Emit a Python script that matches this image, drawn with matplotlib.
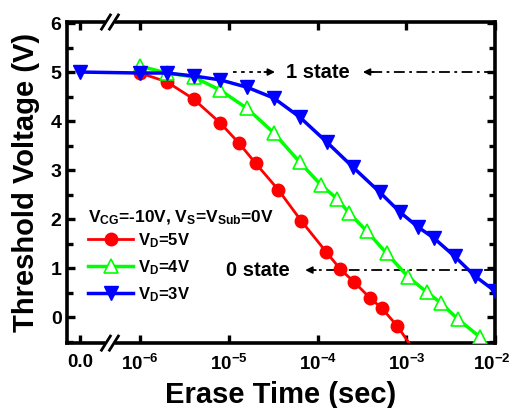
import matplotlib
matplotlib.use("Agg")
import matplotlib.pyplot as plt
import numpy as np
from matplotlib.ticker import MultipleLocator, FixedLocator
from matplotlib.transforms import ScaledTranslation

plt.rcParams["font.family"] = "Liberation Sans"
plt.rcParams["font.weight"] = "bold"
plt.rcParams["mathtext.fontset"] = "custom"
plt.rcParams["mathtext.rm"] = "Liberation Sans:bold"
plt.rcParams["mathtext.bf"] = "Liberation Sans:bold"
plt.rcParams["mathtext.it"] = "Liberation Sans:bold"

# ── data ──────────────────────────────────────────────────────────────────────
t_vd5 = [1e-6, 2e-6, 4e-6, 8e-6, 1.3e-5, 2e-5, 3.6e-5, 6.5e-5, 1.25e-4,
         1.8e-4, 2.6e-4, 3.9e-4, 5.3e-4, 7.9e-4, 1.3e-3]
v_vd5 = [4.98, 4.80, 4.45, 3.96, 3.55, 3.14, 2.60, 1.97, 1.33,
         0.98, 0.71, 0.39, 0.18, -0.18, -0.75]

t_vd4 = [1e-6, 2e-6, 4e-6, 8e-6, 1.6e-5, 3.2e-5, 6.3e-5, 1.1e-4, 1.65e-4,
         2.25e-4, 3.6e-4, 6e-4, 1.05e-3, 1.7e-3, 2.45e-3, 3.8e-3, 6.8e-3]
v_vd4 = [5.12, 4.98, 4.90, 4.63, 4.26, 3.76, 3.16, 2.69, 2.42,
         2.13, 1.75, 1.30, 0.82, 0.51, 0.29, -0.04, -0.41]

t_vd3 = [0, 1e-6, 2e-6, 4e-6, 8e-6, 1.6e-5, 3.2e-5, 6.3e-5, 1.27e-4,
         2.5e-4, 5e-4, 8.5e-4, 1.35e-3, 2.05e-3, 3.5e-3, 5.9e-3, 1e-2]
v_vd3 = [5.00, 4.98, 4.98, 4.92, 4.84, 4.69, 4.47, 4.08, 3.57,
         3.06, 2.55, 2.14, 1.84, 1.61, 1.24, 0.84, 0.53]

x_ticks = [0, 1e-6, 1e-5, 1e-4, 1e-3, 1e-2]
x_ticklabels = ["0.0", r"$10^{-6}$", r"$10^{-5}$", r"$10^{-4}$",
                r"$10^{-3}$", r"$10^{-2}$"]

# ── broken time axis: t = 0 sits left of the log decades ─────────────────────
ZERO_POS = -6.68
BREAK_POS = -6.34


def tpos(t):
    t = np.asarray(t, dtype=float)
    safe = np.where(t > 0, t, 1.0)
    return np.where(t > 0, np.log10(safe), ZERO_POS)


# ── plot ──────────────────────────────────────────────────────────────────────
fig = plt.figure(figsize=(5.12, 4.08), dpi=100)
ax = fig.add_axes([0.131, 0.159, 0.836, 0.787])

ax.plot(tpos(t_vd5), v_vd5, "-o", color="#ff0000", lw=2, ms=9,
        label=r"V$_{\mathrm{D}}$=5V", zorder=3)
ax.plot(tpos(t_vd4), v_vd4, "-^", color="#00ff00", lw=2.5, ms=10,
        mfc="white", mec="#00ff00", mew=1.2,
        label=r"V$_{\mathrm{D}}$=4V", zorder=3)
ax.plot(tpos(t_vd3), v_vd3, "-v", color="#0000ff", lw=2.5, ms=10,
        label=r"V$_{\mathrm{D}}$=3V", zorder=3)

ax.set_xlim(-6.823, -2.0)
ax.set_ylim(-0.53, 6.02)
ax.xaxis.set_major_locator(FixedLocator(tpos(x_ticks)))
ax.set_xticklabels(x_ticklabels)
ax.set_yticks([0, 1, 2, 3, 4, 5, 6])
ax.yaxis.set_minor_locator(MultipleLocator(0.5))
ax.tick_params(which="both", direction="in", top=True, right=True,
               width=2.4, labelsize=14)
ax.tick_params(axis="x", pad=8, labelsize=13.5)
ax.tick_params(axis="y", pad=4)
ax.tick_params(which="major", length=6)
ax.tick_params(which="minor", length=4)
for lbl in ax.get_xticklabels() + ax.get_yticklabels():
    lbl.set_fontweight("bold")
# last decade label sits flush with the figure edge
last = ax.get_xticklabels()[-1]
last.set_transform(last.get_transform()
                   + ScaledTranslation(-3 / 100, 0, fig.dpi_scale_trans))
for sp in ax.spines.values():
    sp.set_linewidth(2.6)

ax.set_xlabel("Erase Time (sec)", fontsize=21, fontweight="bold", labelpad=5)
ax.set_ylabel("Threshold Voltage (V)", fontsize=21, fontweight="bold",
              labelpad=7.5)

# break marks on top and bottom spines
tr = ax.get_xaxis_transform()
for yb in (0.0, 1.0):
    ax.plot([BREAK_POS - 0.05, BREAK_POS + 0.05], [yb, yb], color="white",
            lw=5, transform=tr, clip_on=False, zorder=5,
            solid_capstyle="butt")
    for dx in (-0.045, 0.045):
        ax.plot([BREAK_POS + dx - 0.05, BREAK_POS + dx + 0.05],
                [yb - 0.022, yb + 0.022], color="black", lw=2,
                transform=tr, clip_on=False, zorder=6)

# state markers
ax.text(-4.0, 5.0, "1 state", fontsize=14.5, fontweight="bold",
        ha="center", va="center")
ax.plot([-4.95, -4.56], [5.0, 5.0], color="black", lw=1.3,
        ls=(0, (2, 2.5)))
ax.annotate("", xy=(-4.48, 5.0), xytext=(-4.6, 5.0),
            arrowprops=dict(arrowstyle="-|>", color="black", lw=1.3,
                            mutation_scale=10, shrinkA=0, shrinkB=0))
ax.plot([-2.0, -3.40], [5.0, 5.0], color="black", lw=1.3,
        ls=(0, (6, 2.5, 1.5, 2.5)))
ax.annotate("", xy=(-3.49, 5.0), xytext=(-3.37, 5.0),
            arrowprops=dict(arrowstyle="-|>", color="black", lw=1.3,
                            mutation_scale=10, shrinkA=0, shrinkB=0))

ax.text(-4.67, 0.96, "0 state", fontsize=14.5, fontweight="bold",
        ha="center", va="center")
ax.plot([-2.0, -4.05], [0.96, 0.96], color="black", lw=1.3,
        ls=(0, (6, 2.5, 1.5, 2.5)))
ax.annotate("", xy=(-4.14, 0.96), xytext=(-4.02, 0.96),
            arrowprops=dict(arrowstyle="-|>", color="black", lw=1.3,
                            mutation_scale=10, shrinkA=0, shrinkB=0))

leg = ax.legend(title=r"V$_{\mathrm{CG}}$=-10V, V$_{\mathrm{S}}$=V$_{\mathrm{Sub}}$=0V",
                loc="upper left", bbox_to_anchor=(0.05, 0.42),
                frameon=False, fontsize=12, title_fontsize=12.5,
                handlelength=2.7, handletextpad=0.3, labelspacing=0.5,
                borderpad=0, borderaxespad=0, alignment="left")
leg.get_title().set_fontweight("bold")
leg._legend_box.sep = 3
for txt in leg.get_texts():
    txt.set_fontweight("bold")

fig.savefig("out.png", dpi=100)
